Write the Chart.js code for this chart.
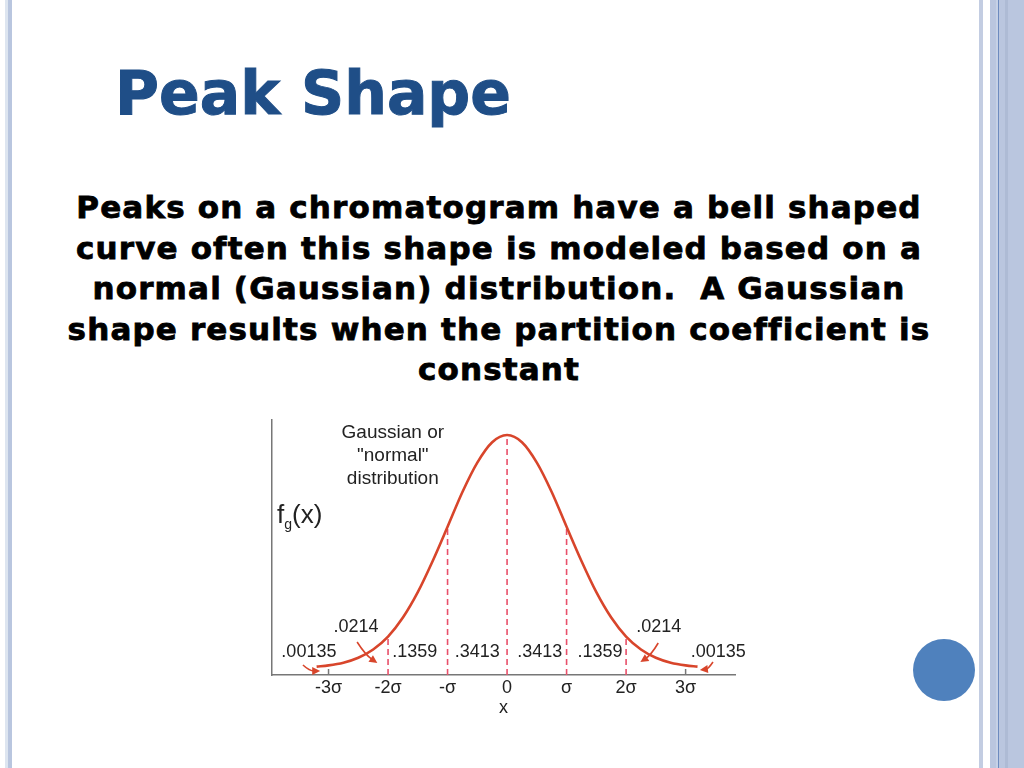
<!DOCTYPE html>
<html>
<head>
<meta charset="utf-8">
<title>Peak Shape</title>
<script src="https://cdn.jsdelivr.net/npm/chart.js@4.4.1/dist/chart.umd.min.js"></script>
<style>
  html, body { margin: 0; padding: 0; background: #fff; }
  #slide { position: relative; width: 1024px; height: 768px; overflow: hidden; background: #fff; }
  .bar { position: absolute; top: 0; height: 768px; }
  #title {
    position: absolute; left: 115px; top: 63px;
    font-family: "DejaVu Sans", sans-serif; font-weight: bold;
    font-size: 60px; line-height: 60px; color: #1f4e87;
    -webkit-text-stroke: 1px #1f4e87; white-space: nowrap;
  }
  #body {
    position: absolute; left: 40px; width: 918px; top: 187px;
    font-family: "DejaVu Sans", sans-serif; font-weight: bold;
    font-size: 31px; line-height: 40.6px; color: #000; text-align: center;
    letter-spacing: 1.15px; -webkit-text-stroke: 0.8px #000;
  }
  #dot { position: absolute; left: 913px; top: 639px; width: 62px; height: 62px; border-radius: 50%; background: #4f81bd; }
  #wrap { position: absolute; left: 240px; top: 400px; width: 520px; height: 325px; }
</style>
</head>
<body>
<div id="slide">
  <div class="bar" style="left:5px;width:3px;background:#dde5f0"></div>
  <div class="bar" style="left:8px;width:4px;background:#b9c6df"></div>
  <div class="bar" style="left:979px;width:4px;background:#c3cde2"></div>
  <div class="bar" style="left:990px;width:34px;background:#bac6df"></div>
  <div class="bar" style="left:996px;width:2px;background:#c6d1e6"></div>
  <div class="bar" style="left:998px;width:1px;background:#6d8bbf"></div>
  <div class="bar" style="left:1005px;width:3px;background:#aebbd5"></div>
  <div id="title">Peak Shape</div>
  <div id="body">Peaks on a chromatogram have a bell shaped<br>curve often this shape is modeled based on a<br>normal (Gaussian) distribution.&nbsp; A Gaussian<br>shape results when the partition coefficient is<br>constant</div>
  <div id="dot"></div>
  <div id="wrap"><canvas id="peak" width="520" height="325"></canvas></div>
</div>
<script>
// x in units of sigma, y as f_g(x)
const sigmaX = [-3.2, -3, -2.75, -2.5, -2.25, -2, -1.75, -1.5, -1.25, -1, -0.75, -0.5, -0.25,
    0, 0.25, 0.5, 0.75, 1, 1.25, 1.5, 1.75, 2, 2.25, 2.5, 2.75, 3, 3.2];
const curveY = [0.014, 0.016, 0.0205, 0.0287, 0.0425, 0.064, 0.0957, 0.138, 0.190, 0.247, 0.305, 0.354, 0.388,
    0.400, 0.388, 0.354, 0.305, 0.247, 0.190, 0.138, 0.0957, 0.064, 0.0425, 0.0287, 0.0205, 0.016, 0.014];

const dropX = [-2, -1, 0, 1, 2];
const dropY = [0.064, 0.247, 0.400, 0.247, 0.064];

const tickX = [-3, -2, -1, 0, 1, 2, 3];
const tickLabels = ['-3\u03c3', '-2\u03c3', '-\u03c3', '0', '\u03c3', '2\u03c3', '3\u03c3'];

const areaText = ['.00135', '.0214', '.1359', '.3413', '.3413', '.1359', '.0214', '.00135'];
const noteText = ['Gaussian or', '"normal"', 'distribution'];

const red = '#d8452b';
const pink = '#e8506a';

const datasets = [{
    data: sigmaX.map((x, i) => ({x: x, y: curveY[i]})),
    borderColor: red,
    borderWidth: 2.6,
    pointRadius: 0,
    cubicInterpolationMode: 'monotone',
    fill: false,
}];
dropX.forEach((x, i) => {
    datasets.push({
        data: [{x: x, y: 0}, {x: x, y: dropY[i]}],
        borderColor: pink,
        borderWidth: 1.6,
        borderDash: [6, 4],
        pointRadius: 0,
        fill: false,
    });
});

// labels, arrows and small marks drawn on top of the chart
const notes = {
    id: 'notes',
    afterDatasetsDraw(chart) {
        const c = chart.ctx;
        const xs = chart.scales.x;
        const base = chart.chartArea.bottom;
        const px = v => xs.getPixelForValue(v);
        c.save();

        // small tick marks at +-3 sigma
        c.strokeStyle = '#777';
        c.lineWidth = 1.5;
        [-3, 3].forEach(v => {
            c.beginPath();
            c.moveTo(px(v), base);
            c.lineTo(px(v), base - 6);
            c.stroke();
        });

        c.fillStyle = '#222';
        c.textAlign = 'center';
        c.textBaseline = 'middle';
        c.font = '18px "Liberation Sans", Arial, sans-serif';
        const spots = [[-3.33, 23], [-2.54, 48], [-1.55, 23], [-0.5, 23], [0.55, 23], [1.56, 23], [2.55, 48], [3.55, 23]];
        areaText.forEach((t, i) => c.fillText(t, px(spots[i][0]), base - spots[i][1]));

        c.font = '19px "Liberation Sans", Arial, sans-serif';
        noteText.forEach((t, i) => c.fillText(t, px(-1.92), base - 242 + i * 23));

        // f_g(x)
        c.textAlign = 'left';
        c.font = '26px "Liberation Sans", Arial, sans-serif';
        const fx = chart.chartArea.left + 5;
        const fy = base - 159;
        c.fillText('f', fx, fy);
        const fw = c.measureText('f').width;
        c.font = '14px "Liberation Sans", Arial, sans-serif';
        c.fillText('g', fx + fw, fy + 9);
        const gw = c.measureText('g').width;
        c.font = '26px "Liberation Sans", Arial, sans-serif';
        c.fillText('(x)', fx + fw + gw, fy);

        // arrows
        const arrows = [
            [[-3.43, 10], [-3.32, 4], [-3.14, 4]],
            [[-2.52, 33], [-2.38, 20], [-2.18, 12]],
            [[2.54, 32], [2.42, 20], [2.24, 13]],
            [[3.46, 13], [3.38, 6], [3.24, 5]],
        ];
        c.strokeStyle = red;
        c.fillStyle = red;
        c.lineWidth = 1.6;
        arrows.forEach(a => {
            const p0 = [px(a[0][0]), base - a[0][1]];
            const p1 = [px(a[1][0]), base - a[1][1]];
            const p2 = [px(a[2][0]), base - a[2][1]];
            const ang = Math.atan2(p2[1] - p1[1], p2[0] - p1[0]);
            const back = [p2[0] - 6 * Math.cos(ang), p2[1] - 6 * Math.sin(ang)];
            c.beginPath();
            c.moveTo(p0[0], p0[1]);
            c.quadraticCurveTo(p1[0], p1[1], back[0], back[1]);
            c.stroke();
            c.beginPath();
            c.moveTo(p2[0], p2[1]);
            c.lineTo(p2[0] - 8 * Math.cos(ang) + 4 * Math.sin(ang), p2[1] - 8 * Math.sin(ang) - 4 * Math.cos(ang));
            c.lineTo(p2[0] - 8 * Math.cos(ang) - 4 * Math.sin(ang), p2[1] - 8 * Math.sin(ang) + 4 * Math.cos(ang));
            c.closePath();
            c.fill();
        });
        c.restore();
    }
};

const ctx_peak = document.getElementById('peak').getContext('2d');
const Chart_peak = new Chart(ctx_peak, {
    type: 'line',
    data: { datasets: datasets },
    plugins: [notes],
    options: {
        responsive: false,
        animation: false,
        layout: { padding: { top: 20, right: 25, bottom: 5, left: 0 } },
        plugins: {
            legend: { display: false },
            tooltip: { enabled: false },
        },
        scales: {
            x: {
                type: 'linear',
                min: -3.95,
                max: 3.83,
                afterBuildTicks: scale => { scale.ticks = tickX.map(v => ({value: v})); },
                afterFit: scale => { scale.height = 45; },
                grid: { display: false, drawTicks: false, tickLength: 0 },
                border: { color: '#777', width: 1.5 },
                ticks: {
                    padding: 2,
                    color: '#222',
                    font: { family: '"Liberation Sans", Arial, sans-serif', size: 18 },
                    callback: v => tickLabels[tickX.indexOf(v)],
                },
                title: {
                    display: true,
                    text: 'x',
                    color: '#222',
                    padding: { top: 4, bottom: 1 },
                    font: { family: '"Liberation Sans", Arial, sans-serif', size: 18 },
                },
            },
            y: {
                min: 0,
                max: 0.425,
                afterFit: scale => { scale.width = 32; },
                grid: { display: false },
                border: { color: '#777', width: 1.5 },
                ticks: { display: false },
            },
        },
    },
});
</script>
</body>
</html>
